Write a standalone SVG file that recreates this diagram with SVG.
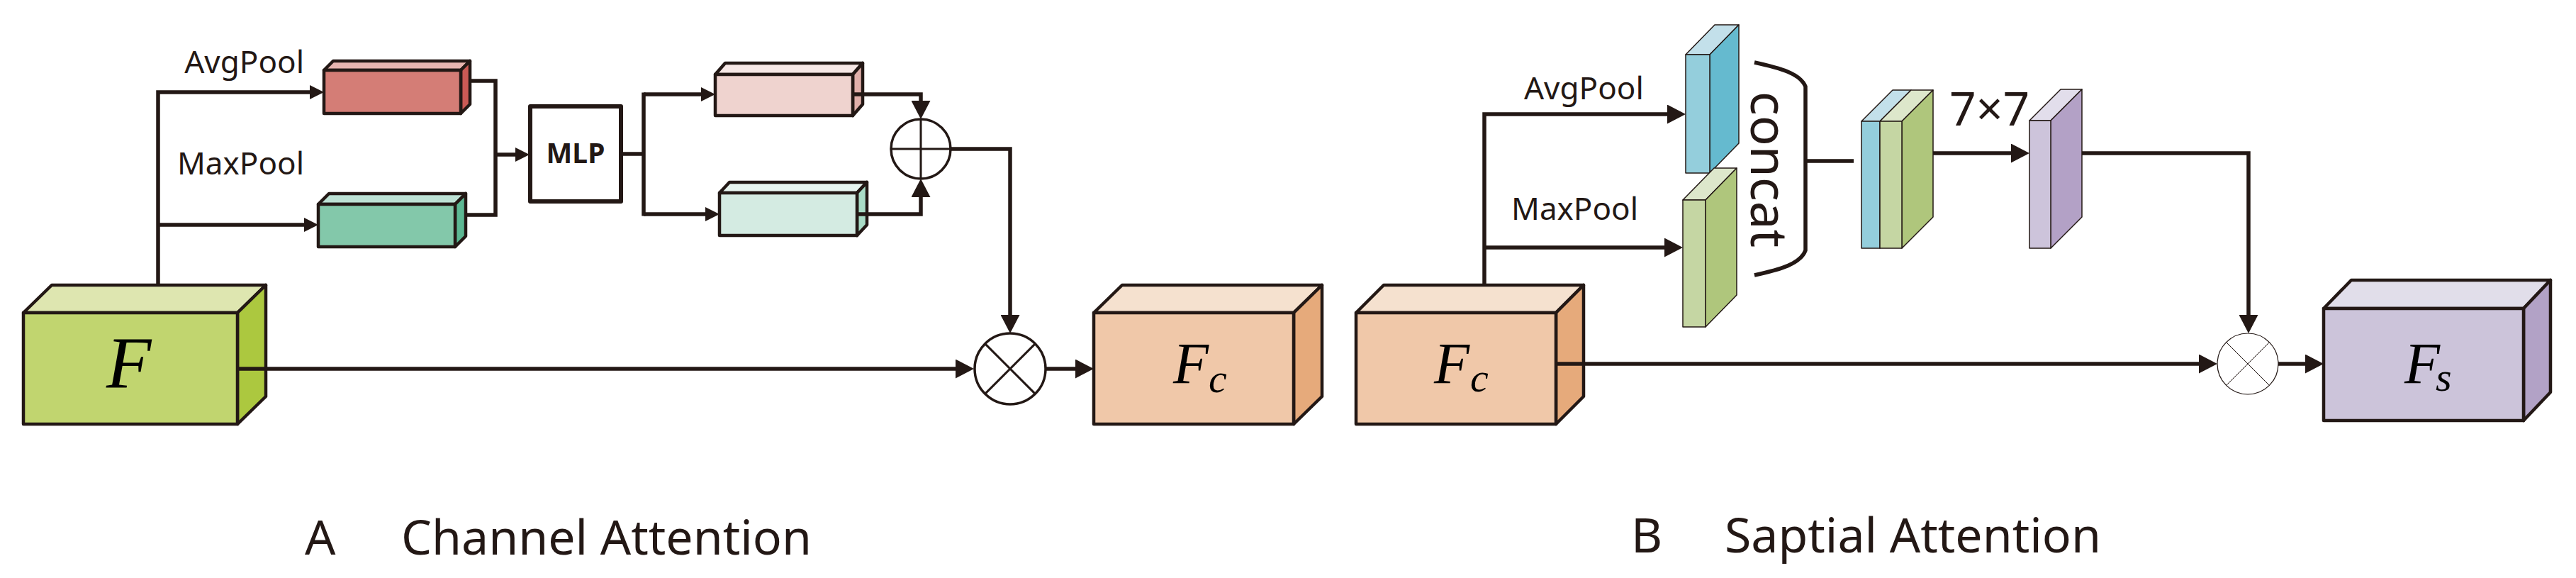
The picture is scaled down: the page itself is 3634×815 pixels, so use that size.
<svg xmlns="http://www.w3.org/2000/svg" width="3634" height="815" viewBox="0 0 3634 815">
<style>
.ln{fill:none;stroke:#231815;stroke-width:5.5;stroke-linejoin:miter}
.bx{stroke:#231815;stroke-width:4.5;stroke-linejoin:round}
.sl{stroke:#231815;stroke-width:1.5;stroke-linejoin:round}
.t{font-family:"Noto Sans","Liberation Sans",sans-serif;fill:#231815}
.m{font-family:"Liberation Serif","DejaVu Serif",serif;font-style:italic;fill:#000}
.op{fill:#fff;stroke:#231815;stroke-width:3.5}
.opl{stroke:#231815;stroke-width:3}
</style>
<defs>
<marker id="aS" markerUnits="userSpaceOnUse" markerWidth="20" markerHeight="20" refX="13" refY="10" orient="auto"><path d="M0,0 L20,10 L0,20 Z" fill="#231815"/></marker>
<marker id="aL" markerUnits="userSpaceOnUse" markerWidth="26" markerHeight="27" refX="18" refY="13.5" orient="auto"><path d="M0,0 L26,13.5 L0,27 Z" fill="#231815"/></marker>
</defs>
<rect width="3634" height="815" fill="#fff"/>

<!-- A: Channel attention -->
<g id="F">
<polygon class="bx" fill="#DEE6B0" points="33,441 73,402 375,402 335,441"/>
<polygon class="bx" fill="#ACC83F" points="335,441 375,402 375,559 335,598"/>
<rect class="bx" fill="#C1D56F" x="33" y="441" width="302" height="157"/>
<text class="m" x="150" y="547" font-size="104">F</text>
</g>

<g id="avgpool-a">
<polygon class="bx" fill="#E8B5B0" points="457,99 470,86 663,86 650,99"/>
<polygon class="bx" fill="#CB5A55" points="650,99 663,86 663,147 650,160"/>
<rect class="bx" fill="#D47D76" x="457" y="99" width="193" height="61"/>
</g>
<g id="maxpool-a">
<polygon class="bx" fill="#BDE1D4" points="449,288 464,273 657,273 642,288"/>
<polygon class="bx" fill="#5DB893" points="642,288 657,273 657,333 642,348"/>
<rect class="bx" fill="#83C8AA" x="449" y="288" width="193" height="60"/>
</g>
<g id="mlp">
<rect x="748" y="150" width="128" height="134" fill="#fff" stroke="#231815" stroke-width="6" stroke-linejoin="round"/>
<text class="t" x="812" y="230" font-size="39" font-weight="bold" text-anchor="middle">MLP</text>
</g>
<g id="mlp-out-1">
<polygon class="bx" fill="#F6E7E5" points="1009,105 1023,89 1217,89 1203,105"/>
<polygon class="bx" fill="#E1AFAA" points="1203,105 1217,89 1217,147 1203,163"/>
<rect class="bx" fill="#EFD3CF" x="1009" y="105" width="194" height="58"/>
</g>
<g id="mlp-out-2">
<polygon class="bx" fill="#E7F4EF" points="1015,272 1029,257 1223,257 1209,272"/>
<polygon class="bx" fill="#A9DCC6" points="1209,272 1223,257 1223,317 1209,332"/>
<rect class="bx" fill="#D4EBE2" x="1015" y="272" width="194" height="60"/>
</g>

<g id="Fc-a">
<polygon class="bx" fill="#F5E1CF" points="1543,441 1583,402 1865,402 1825,441"/>
<polygon class="bx" fill="#E6AA7B" points="1825,441 1865,402 1865,559 1825,598"/>
<rect class="bx" fill="#F0C8A9" x="1543" y="441" width="282" height="157"/>
<text class="m" x="1655" y="540" font-size="82">F</text>
<text class="m" x="1705" y="553" font-size="58">c</text>
</g>

<!-- B: Spatial attention -->
<g id="Fc-b">
<polygon class="bx" fill="#F5E1CF" points="1913,441 1952,402 2234,402 2195,441"/>
<polygon class="bx" fill="#E6AA7B" points="2195,441 2234,402 2234,559 2195,598"/>
<rect class="bx" fill="#F0C8A9" x="1913" y="441" width="282" height="157"/>
<text class="m" x="2023" y="540" font-size="82">F</text>
<text class="m" x="2074" y="552" font-size="58">c</text>
</g>
<g id="avgpool-b">
<polygon class="sl" fill="#C3E0EA" points="2378,77 2419,35 2453,35 2412,77"/>
<polygon class="sl" fill="#65BACF" points="2412,77 2453,35 2453,202 2412,244"/>
<rect class="sl" fill="#94CEDC" x="2378" y="77" width="34" height="167"/>
</g>
<g id="maxpool-b">
<polygon class="sl" fill="#DDE7CB" points="2374,282 2418,237 2450,237 2406,282"/>
<polygon class="sl" fill="#AFC67C" points="2406,282 2450,237 2450,416 2406,461"/>
<rect class="sl" fill="#C5D6A3" x="2374" y="282" width="32" height="179"/>
</g>
<g id="concat">
<path d="M2475,88 C2512,96 2540,104 2547,122 L2547,353 C2540,372 2512,380 2475,388" fill="none" stroke="#231815" stroke-width="5.5"/>
<text class="t" transform="translate(2470,239) rotate(90)" font-size="71" text-anchor="middle">concat</text>
</g>
<g id="concat-map">
<polygon class="sl" fill="#C3E0EA" points="2626,171 2670,127 2696,127 2652,171"/>
<polygon class="sl" fill="#DDE7CB" points="2652,171 2696,127 2727,127 2683,171"/>
<polygon class="sl" fill="#AFC67C" points="2683,171 2727,127 2727,306 2683,350"/>
<rect class="sl" fill="#94CEDC" x="2626" y="171" width="26" height="179"/>
<rect class="sl" fill="#C5D6A3" x="2652" y="171" width="31" height="179"/>
</g>
<g id="conv-map">
<polygon class="sl" fill="#E2DEEB" points="2863,170 2907,126 2937,126 2893,170"/>
<polygon class="sl" fill="#B3A1C6" points="2893,170 2937,126 2937,306 2893,350"/>
<rect class="sl" fill="#CDC4DB" x="2863" y="170" width="30" height="180"/>
</g>
<g id="Fs">
<polygon class="bx" fill="#E1DEEA" points="3278,435 3317,395 3598,395 3560,435" stroke-width="5"/>
<polygon class="bx" fill="#B2A2C6" points="3560,435 3598,395 3598,553 3560,593" stroke-width="5"/>
<rect class="bx" fill="#CCC4DA" x="3278" y="435" width="282" height="158" stroke-width="5"/>
<text class="m" x="3392" y="540" font-size="82">F</text>
<text class="m" x="3436" y="551" font-size="58">s</text>
</g>

<g id="connectors">
<path class="ln" d="M223,403 V130 H450" marker-end="url(#aS)"/>
<path class="ln" d="M223,317 H442" marker-end="url(#aS)"/>
<path class="ln" d="M663,114 H699 V303 H657"/>
<path class="ln" d="M699,218 H740" marker-end="url(#aS)"/>
<path class="ln" d="M876,217 H908"/>
<path class="ln" d="M908,130.5 V304.5"/>
<path class="ln" d="M908,133 H1002" marker-end="url(#aS)"/>
<path class="ln" d="M908,302 H1008" marker-end="url(#aS)"/>
<path class="ln" d="M1203,133 H1299 V160" marker-end="url(#aL)"/>
<path class="ln" d="M1209,302 H1299 V260" marker-end="url(#aL)"/>
<path class="ln" d="M1341,210 H1425 V462" marker-end="url(#aL)"/>
<path class="ln" d="M335,520 H1366" marker-end="url(#aL)"/>
<path class="ln" d="M1476,520 H1535" marker-end="url(#aL)"/>
<path class="ln" d="M2094,403 V161 H2370" marker-end="url(#aL)"/>
<path class="ln" d="M2094,349 H2366" marker-end="url(#aL)"/>
<path class="ln" d="M2547,227 H2615"/>
<path class="ln" d="M2727,216 H2855" marker-end="url(#aL)"/>
<path class="ln" d="M2937,216 H3172 V462" marker-end="url(#aL)"/>
<path class="ln" d="M2195,513 H3120" marker-end="url(#aL)"/>
<path class="ln" d="M3214,513 H3270" marker-end="url(#aL)"/>
</g>

<g id="oplus">
<circle class="op" cx="1299" cy="210" r="42"/>
<path class="opl" d="M1257,210 H1341 M1299,168 V252"/>
</g>
<g id="otimes-a">
<circle class="op" cx="1425" cy="520" r="50"/>
<path class="opl" d="M1389.6,484.6 L1460.4,555.4 M1460.4,484.6 L1389.6,555.4"/>
</g>
<g id="otimes-b">
<circle cx="3171" cy="513" r="43" fill="#fff" stroke="#231815" stroke-width="1.2"/>
<path d="M3140.6,482.6 L3201.4,543.4 M3201.4,482.6 L3140.6,543.4" stroke="#231815" stroke-width="1"/>
</g>

<g id="labels">
<text class="t" x="429" y="103" font-size="44" text-anchor="end">AvgPool</text>
<text class="t" x="429" y="246" font-size="44" text-anchor="end">MaxPool</text>
<text class="t" x="2150" y="140" font-size="44">AvgPool</text>
<text class="t" x="2132" y="310" font-size="44">MaxPool</text>
<text class="t" x="2750" y="177" font-size="66">7×7</text>
<text class="t" x="430" y="782" font-size="68">A</text>
<text class="t" x="566" y="782" font-size="68">Channel Attention</text>
<text class="t" x="2301" y="779" font-size="68">B</text>
<text class="t" x="2433" y="779" font-size="68">Saptial Attention</text>
</g>
</svg>
